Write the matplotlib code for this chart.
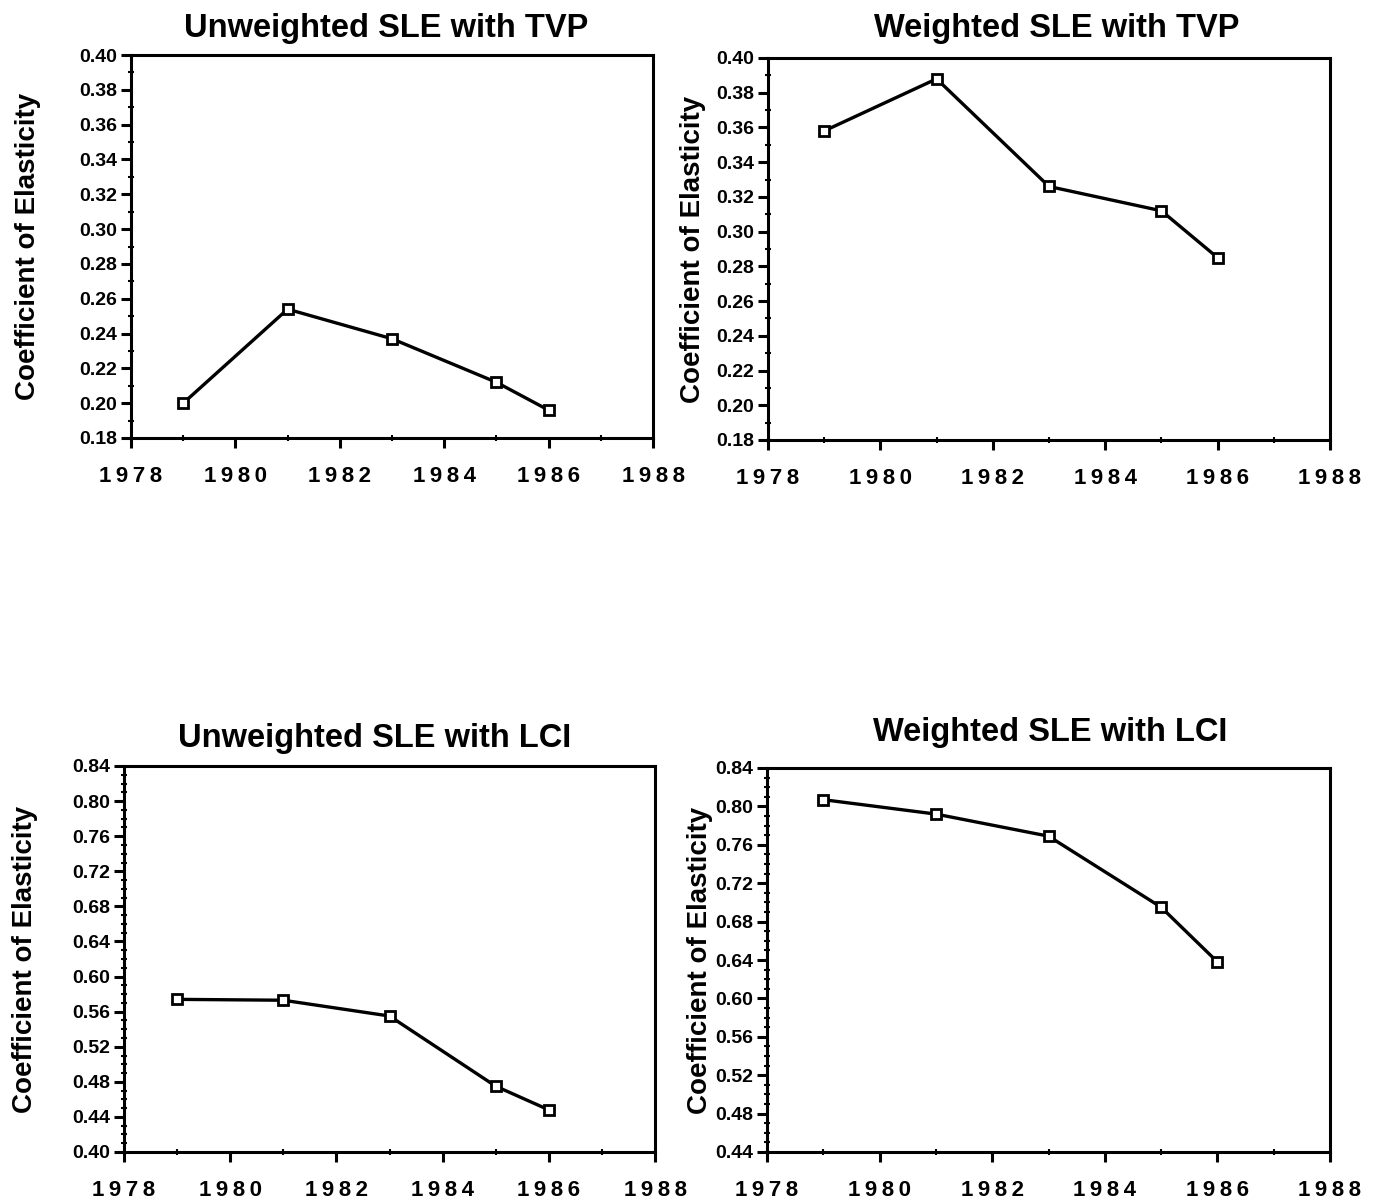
import matplotlib
matplotlib.use("Agg")
import matplotlib.pyplot as plt
from matplotlib.ticker import MultipleLocator, FormatStrFormatter

plt.rcParams['font.family'] = ['Liberation Sans', 'DejaVu Sans']
plt.rcParams['font.weight'] = 'bold'

years = [1979, 1981, 1983, 1985, 1986]
unweighted_tvp = [0.200, 0.254, 0.237, 0.212, 0.196]
weighted_tvp = [0.358, 0.388, 0.326, 0.312, 0.285]
unweighted_lci = [0.574, 0.573, 0.555, 0.475, 0.448]
weighted_lci = [0.807, 0.792, 0.769, 0.695, 0.638]

titles = ["Unweighted SLE with TVP", "Weighted SLE with TVP",
          "Unweighted SLE with LCI", "Weighted SLE with LCI"]
series = [unweighted_tvp, weighted_tvp, unweighted_lci, weighted_lci]
ylims = [(0.18, 0.40), (0.18, 0.40), (0.40, 0.84), (0.44, 0.84)]
ysteps = [0.02, 0.02, 0.04, 0.04]
yminor = [0.01, 0.01, 0.01, 0.01]
xticks = [1978, 1980, 1982, 1984, 1986, 1988]
xticklabels = ["\u2009".join(str(y)) for y in xticks]

W, H = 1380, 1202
fig = plt.figure(figsize=(W / 100, H / 100), dpi=100)
# axes boxes in pixels: left, right, top, bottom
boxes = [(131, 653, 55, 438), (768, 1330, 58, 440),
         (124, 655, 766, 1152), (767, 1330, 768, 1152)]
title_pos = [(386, 28), (1057, 28), (375, 738), (1050, 733)]
ylabel_x = [41, 706, 38, 713]

for i, (l, r, t, b) in enumerate(boxes):
    ax = fig.add_axes([l / W, 1 - b / H, (r - l) / W, (b - t) / H])
    ax.plot(years, series[i], color='black', lw=2.4, marker='s', ms=7,
            mfc='white', mec='black', mew=2)
    ax.set_xlim(1978, 1988)
    ax.set_ylim(*ylims[i])
    ax.set_xticks(xticks)
    ax.set_xticklabels(xticklabels)
    ax.xaxis.set_minor_locator(MultipleLocator(1))
    ax.yaxis.set_major_locator(MultipleLocator(ysteps[i]))
    ax.yaxis.set_minor_locator(MultipleLocator(yminor[i]))
    ax.yaxis.set_major_formatter(FormatStrFormatter('%.2f'))
    for s in ax.spines.values():
        s.set_linewidth(2.2)
    ax.tick_params(which='major', direction='out', length=7, width=2.2)
    ax.tick_params(which='minor', direction='inout', length=5, width=1.5)
    ax.tick_params(axis='x', which='major', pad=13, labelsize=16)
    ax.tick_params(axis='y', which='major', pad=3, labelsize=14)
    for lab in ax.get_xticklabels() + ax.get_yticklabels():
        lab.set_fontweight('bold')
    tx, ty = title_pos[i]
    fig.text(tx / W, 1 - ty / H, titles[i], fontsize=23.5, fontweight='bold',
             ha='center', va='center')
    ax.set_ylabel("Coefficient of Elasticity", fontsize=20, fontweight='bold')
    ax.yaxis.set_label_coords((ylabel_x[i] - l) / (r - l), 0.5)

fig.savefig("out.png", dpi=100, facecolor='white')
